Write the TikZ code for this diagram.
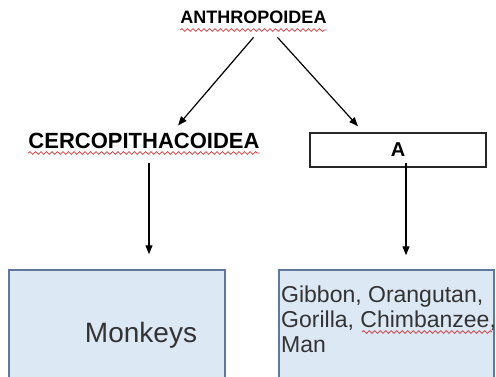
\documentclass[tikz,border=0pt]{standalone}
\usepackage{fontspec}
\setmainfont{Liberation Sans}
\usetikzlibrary{arrows.meta,decorations.pathmorphing}
\definecolor{boxFill}{RGB}{221,232,245}
\definecolor{boxLine}{RGB}{96,120,156}
\definecolor{spellRed}{RGB}{210,60,60}
\definecolor{textGray}{RGB}{51,51,51}
\begin{document}
\begin{tikzpicture}[x=1pt,y=-1pt,
    title/.style={inner sep=0pt,font=\bfseries\fontsize{#1}{#1}\selectfont},
    arr/.style={line width=1.2pt,-{Triangle[length=9pt,width=7pt]}},
    spell/.style={spellRed,line width=0.8pt,decorate,decoration={snake,amplitude=1.4pt,segment length=5.5pt}},
    leaf/.style={draw=boxLine,fill=boxFill,line width=1.5pt,minimum width=216pt,minimum height=130pt}]
    \useasboundingbox (0,0) rectangle (496,376);
    \pgfmathsetmacro{\gapArrow}{15}
    % names of the groups
    \node[title=18,anchor=base] (anthro) at (253.5,23) {ANTHROPOIDEA};
    \node[title=22,anchor=base] (cerco) at (144,148) {CERCOPITHACOIDEA};
    \node[draw=black!85,line width=1.5pt,minimum width=176pt,minimum height=34pt,inner sep=0pt,font=\bfseries\fontsize{20}{20}\selectfont] (boxa) at (398,150) {A};
    % members
    \node[leaf,text=textGray,font=\fontsize{28}{28}\selectfont] (monkeys) at (117,335) {\hspace*{48pt}Monkeys};
    \node[leaf,minimum width=215pt] (apes) at (386.5,335) {};
    \node[inner sep=0pt,anchor=north west,align=left,text=textGray,font=\fontsize{23}{25}\selectfont] (apestext) at (281,286) {Gibbon, Orangutan,\\Gorilla, Chimbanzee,\\Man};
    % arrows
    \draw[arr] ([yshift=-14pt]anthro.south) -- ([xshift=34pt,yshift=7pt]cerco.north);
    \draw[arr] ([xshift=24pt,yshift=-14pt]anthro.south) -- ([xshift=-40pt,yshift=6pt]boxa.north);
    \draw[arr,shorten <=\gapArrow pt,shorten >=\gapArrow pt] ([xshift=5pt]cerco.base) -- ([xshift=5pt]cerco.base |- monkeys.north);
    \draw[arr,shorten >=14pt] ([xshift=8pt,yshift=-13pt]boxa.center) -- ([xshift=8pt]boxa.center |- apes.north);
    % spell check marks
    \draw[spell] ([yshift=-7pt]anthro.base west) -- ([yshift=-7pt]anthro.base east);
    \draw[spell] ([yshift=-5pt]cerco.base west) -- ([yshift=-5pt]cerco.base east);
    \draw[spell] ([shift={(81,46)}]apestext.north west) -- ++(130,0);
\end{tikzpicture}
\end{document}
